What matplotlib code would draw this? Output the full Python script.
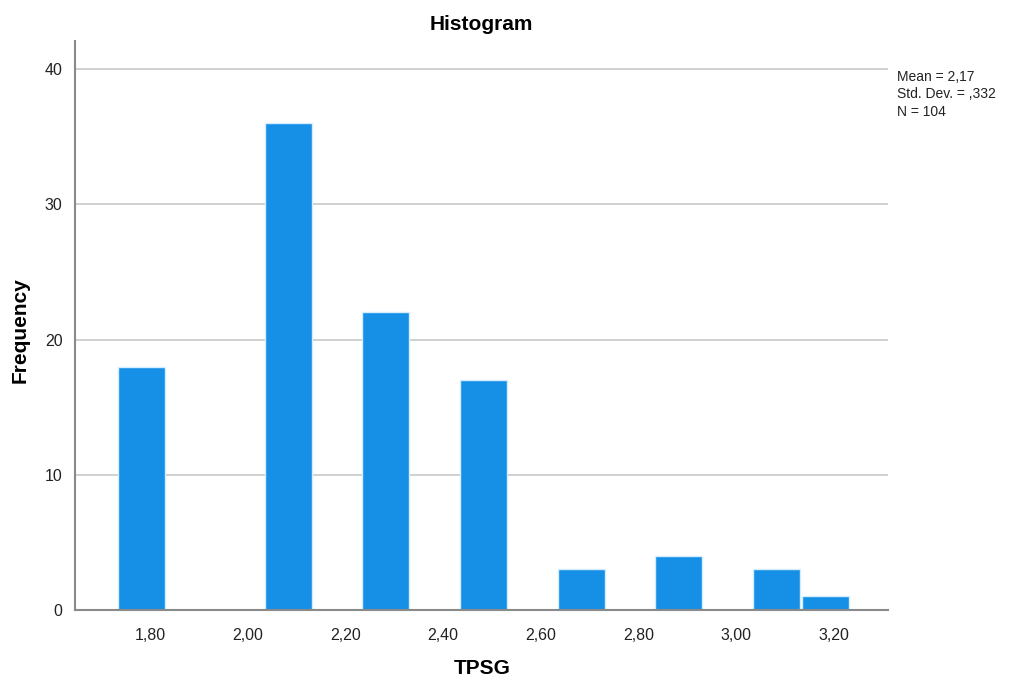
import numpy as np
import matplotlib
matplotlib.use("Agg")
import matplotlib.pyplot as plt
from matplotlib.ticker import FixedLocator, FuncFormatter

plt.rcParams['font.family'] = ['Liberation Sans', 'DejaVu Sans']

bin_start = 1.7345
bin_width = 0.1
counts = [18, 0, 0, 36, 0, 22, 0, 17, 0, 3, 0, 4, 0, 3, 1]
x_ticks = [1.8, 2.0, 2.2, 2.4, 2.6, 2.8, 3.0, 3.2]
y_ticks = [0, 10, 20, 30, 40]
stats_text = "Mean = 2,17\nStd. Dev. = ,332\nN = 104"

edges = bin_start + bin_width * np.arange(len(counts))
counts = np.array(counts)
nz = counts > 0  # empty bins draw nothing

fig = plt.figure(figsize=(10.11, 6.79), dpi=100)
ax = fig.add_axes([0.0742, 0.1016, 0.8041, 0.838])

ax.bar(edges[nz], counts[nz], width=bin_width * 0.965, align='edge', color='#1590e6',
       edgecolor='#d6ecff', linewidth=1.0, zorder=3)

ax.set_xlim(1.6465, 3.311)
ax.set_ylim(0, 42.07)

ax.yaxis.set_major_locator(FixedLocator(y_ticks))
ax.xaxis.set_major_locator(FixedLocator(x_ticks))
ax.xaxis.set_major_formatter(FuncFormatter(lambda v, p: f"{v:.2f}".replace('.', ',')))
ax.tick_params(length=0, labelsize=11.5, colors='#222222', pad=13)
ax.tick_params(axis='y', pad=9)

ax.grid(axis='y', color='#c8c8c8', linewidth=1.2, zorder=0)
for s in ['top', 'right']:
    ax.spines[s].set_visible(False)
for s in ['left', 'bottom']:
    ax.spines[s].set_color('#8a8a8a')
    ax.spines[s].set_linewidth(1.5)
    ax.spines[s].set_zorder(4)

ax.set_title("Histogram", fontsize=15, fontweight='bold', pad=8)
fig.text(482 / 1011, 1 - 668 / 679, "TPSG", fontsize=15, fontweight='bold',
         ha='center', va='center')
fig.text(20 / 1011, 1 - 330 / 679, "Frequency", fontsize=15, fontweight='bold',
         ha='center', va='center', rotation=90)

fig.text(897 / 1011, 1 - 70 / 679, stats_text, fontsize=10, va='top', ha='left',
         linespacing=1.3, color='#222222')

fig.savefig('out.png', dpi=100)
